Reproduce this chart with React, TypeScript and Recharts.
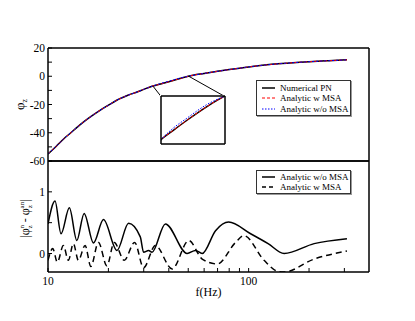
import React from 'react';
import { LineChart, Line, XAxis, YAxis, ReferenceLine, Label } from 'recharts';

// top panel: phase phi_z vs frequency
const topFreq = [10, 11, 12, 13, 14, 15, 16, 18, 20, 22, 25, 28, 30, 33, 36, 40, 45, 50, 60, 70, 80, 90, 100, 120, 140, 160, 180, 200, 250, 309];
const phiNumerical = [-55, -49.5, -44.2, -40, -36, -32.5, -29.5, -24.5, -20.5, -17, -13.5, -11, -9.3, -7.1, -5.7, -3.9, -1.8, 0, 2, 3.5, 4.7, 5.7, 6.6, 7.9, 8.8, 9.4, 9.9, 10.3, 11, 11.6];
const phiMsa = [-55, -49.5, -44.2, -40, -36, -32.5, -29.5, -24.5, -20.5, -17, -13.5, -11, -9.3, -7.1, -5.7, -3.9, -1.8, 0, 2, 3.5, 4.7, 5.7, 6.6, 7.9, 8.8, 9.4, 9.9, 10.3, 11, 11.6];
const phiNoMsa = [-55, -49.5, -44.2, -40, -36, -32.5, -29.5, -24.5, -20.5, -17, -13.5, -11, -9.3, -7.1, -5.35, -3.55, -1.45, 0, 2, 3.5, 4.7, 5.7, 6.6, 7.9, 8.8, 9.4, 9.9, 10.3, 11, 11.6];

// bottom panel: |phi_n - phi_an|
const noMsaFreq = [10, 10.84, 11.61, 12.78, 13.92, 15.14, 16.85, 18.9, 22.06, 25.21, 28.84, 29.96, 31.73, 33.0, 38.46, 49.37, 54.33, 58.68, 68.39, 79.5, 102.3, 125, 150.2, 212.1, 309];
const noMsaDiff = [0.48, 0.85, 0.32, 0.74, 0.21, 0.65, 0.17, 0.55, 0.05, 0.49, 0.27, 0.02, 0.05, 0.02, 0.48, 0.0, 0.05, 0.0, 0.37, 0.51, 0.32, 0.16, 0.0, 0.16, 0.24];
const msaFreq = [10, 10.56, 11.13, 11.93, 12.63, 13.38, 14.17, 15.31, 16.35, 17.84, 19.66, 21.38, 23.99, 27.02, 29.96, 34.28, 41.56, 50.29, 58.68, 69.74, 86.1, 94.74, 119.3, 140, 150, 212.1, 309];
const msaDiff = [-0.11, 0.08, -0.14, 0.13, -0.11, 0.16, -0.11, 0.13, -0.21, 0.18, -0.2, 0.18, -0.11, 0.18, -0.23, 0.13, -0.25, 0.21, -0.09, -0.17, 0.18, 0.29, -0.11, -0.29, -0.3, -0.09, 0.04];

const freqTicks = [10, 20, 30, 40, 50, 60, 70, 80, 90, 100, 200, 300];
const freqLabels = [10, 100];
const phiTicks = [-60, -50, -40, -30, -20, -10, 0, 10, 20];
const phiLabels = [-60, -40, -20, 0, 20];
const diffTicks = [0, 0.5, 1, 1.5];
const diffLabels = [0, 1];
const insetTicks = [45];
const topLegend = ['Numerical PN', 'Analytic w MSA', 'Analytic w/o MSA'];
const bottomLegend = ['Analytic w/o MSA', 'Analytic w MSA'];

const FONT = '"Liberation Serif", "Times New Roman", serif';
const axisStyle = { stroke: '#000', strokeWidth: 1.5 };
const tickStyle = { stroke: '#000', strokeWidth: 1 };
const tickText = { fill: '#000', fontSize: 11.5, fontFamily: FONT };

const topData = topFreq.map((f, i) => ({ f, pn: phiNumerical[i], msa: phiMsa[i], nomsa: phiNoMsa[i] }));
const noMsaData = noMsaFreq.map((f, i) => ({ f, v: noMsaDiff[i] }));
const msaData = msaFreq.map((f, i) => ({ f, v: msaDiff[i] }));

const PhiTitle = ({ viewBox }: any) => {
  const cx = viewBox.x + 24;
  const cy = viewBox.y + viewBox.height / 2;
  return (
    <text x={cx} y={cy} transform={`rotate(-90 ${cx} ${cy})`} textAnchor="middle" fontFamily={FONT} fontSize={13} fill="#000">
      φ<tspan dy={3} fontSize={8}>z</tspan>
    </text>
  );
};

const DiffTitle = ({ viewBox }: any) => {
  const cx = viewBox.x + 29;
  const cy = viewBox.y + viewBox.height / 2 + 2;
  return (
    <text x={cx} y={cy} transform={`rotate(-90 ${cx} ${cy})`} textAnchor="middle" fontFamily={FONT} fontSize={12} fill="#000">
      |φ<tspan dy={-5} fontSize={7}>n</tspan>
      <tspan dx={-3.5} dy={8} fontSize={7}>z</tspan>
      <tspan dy={-3} fontSize={12}> - φ</tspan>
      <tspan dy={-5} fontSize={7}>an</tspan>
      <tspan dx={-6.5} dy={8} fontSize={7}>z</tspan>
      <tspan dx={3.5} dy={-3} fontSize={12}>|</tspan>
    </text>
  );
};

const FreqTitle = ({ viewBox }: any) => (
  <text x={viewBox.x + viewBox.width / 2} y={viewBox.y + 24} textAnchor="middle" fontFamily={FONT} fontSize={12} fill="#000">
    f(Hz)
  </text>
);

function LegendBox({ left, top, height, labels, samples, pad }: any) {
  return (
    <div style={{ position: 'absolute', left, top, width: 95, height, border: '1px solid #333', boxShadow: '1px 1px 0 #999', background: '#fff', boxSizing: 'border-box', fontFamily: FONT, fontSize: 9, color: '#000' }}>
      {labels.map((name: string, i: number) => (
        <div key={name} style={{ position: 'absolute', left: 0, top: pad + i * 10.4, height: 10.4, width: '100%' }}>
          <svg width={13} height={10} style={{ position: 'absolute', left: 5, top: 0 }}>
            <line x1={0} x2={13} y1={5} y2={5} {...samples[i]} />
          </svg>
          <span style={{ position: 'absolute', left: 23, top: 0, lineHeight: '10px', whiteSpace: 'nowrap' }}>{name}</span>
        </div>
      ))}
    </div>
  );
}

export default function App() {
  const fmt = (labels: number[]) => (v: number) => (labels.includes(v) ? String(v) : '');
  return (
    <div style={{ position: 'absolute', left: 0, top: 0, width: 415, height: 321, background: '#fff' }}>
      <div style={{ position: 'absolute', left: 0, top: 0 }}>
        <LineChart width={415} height={175} data={topData} margin={{ top: 47, right: 45, bottom: 0, left: 0 }}>
          <XAxis dataKey="f" type="number" scale="log" domain={[10, 398]} allowDataOverflow ticks={freqTicks} interval={0} tick={false} tickSize={-4} height={14} axisLine={axisStyle} tickLine={tickStyle} />
          <XAxis xAxisId="top" orientation="top" dataKey="f" type="number" scale="log" domain={[10, 398]} allowDataOverflow ticks={freqTicks} interval={0} tick={false} tickSize={-4} height={1} axisLine={axisStyle} tickLine={tickStyle} />
          <YAxis type="number" domain={[-60, 20]} ticks={phiTicks} interval={0} width={48} tickSize={-4} tickMargin={7} tickFormatter={fmt(phiLabels)} tick={tickText} axisLine={axisStyle} tickLine={tickStyle}>
            <Label content={PhiTitle} />
          </YAxis>
          <YAxis yAxisId="right" orientation="right" type="number" domain={[-60, 20]} ticks={phiTicks} interval={0} width={1} tick={false} tickSize={-4} axisLine={axisStyle} tickLine={tickStyle} />
          <Line type="monotone" dataKey="pn" stroke="#000" strokeWidth={1.5} dot={false} isAnimationActive={false} />
          <Line type="monotone" dataKey="msa" stroke="#ff0000" strokeWidth={1} strokeDasharray="3 2" dot={false} isAnimationActive={false} />
          <Line type="monotone" dataKey="nomsa" stroke="#0000ff" strokeWidth={1} strokeDasharray="2 2" dot={false} isAnimationActive={false} />
          <ReferenceLine segment={[{ x: 33.4, y: -7.1 }, { x: 36.6, y: -14.3 }]} stroke="#000" strokeWidth={1} />
          <ReferenceLine segment={[{ x: 50.3, y: 0 }, { x: 76, y: -14.3 }]} stroke="#000" strokeWidth={1} />
        </LineChart>
      </div>

      <div style={{ position: 'absolute', left: 160, top: 95, background: '#fff' }}>
        <LineChart width={66} height={50} data={topData} margin={{ top: 0, right: 0, bottom: 0, left: 0 }}>
          <XAxis dataKey="f" type="number" domain={[33, 50]} allowDataOverflow ticks={insetTicks} interval={0} tick={false} tickSize={-3} height={1} axisLine={axisStyle} tickLine={tickStyle} />
          <XAxis xAxisId="top" orientation="top" dataKey="f" type="number" domain={[33, 50]} allowDataOverflow ticks={insetTicks} interval={0} tick={false} tickSize={-3} height={1} axisLine={axisStyle} tickLine={tickStyle} />
          <YAxis type="number" domain={[-7.8, 0]} allowDataOverflow tick={false} tickLine={false} width={1} axisLine={axisStyle} />
          <YAxis yAxisId="right" orientation="right" type="number" domain={[-7.8, 0]} tick={false} tickLine={false} width={1} axisLine={axisStyle} />
          <Line type="monotone" dataKey="pn" stroke="#000" strokeWidth={1.5} dot={false} isAnimationActive={false} />
          <Line type="monotone" dataKey="msa" stroke="#ff0000" strokeWidth={1} strokeDasharray="3 2" dot={false} isAnimationActive={false} />
          <Line type="monotone" dataKey="nomsa" stroke="#0000ff" strokeWidth={1} strokeDasharray="1.5 1.5" dot={false} isAnimationActive={false} />
        </LineChart>
      </div>

      <div style={{ position: 'absolute', left: 0, top: 160 }}>
        <LineChart width={415} height={140} margin={{ top: 0, right: 45, bottom: 0, left: 0 }}>
          <XAxis dataKey="f" type="number" scale="log" domain={[10, 398]} allowDataOverflow ticks={freqTicks} interval={0} tickFormatter={fmt(freqLabels)} tick={tickText} tickSize={-4} tickMargin={9} height={28} axisLine={axisStyle} tickLine={tickStyle}>
            <Label content={FreqTitle} />
          </XAxis>
          <XAxis xAxisId="top" orientation="top" dataKey="f" type="number" scale="log" domain={[10, 398]} allowDataOverflow ticks={freqTicks} interval={0} tick={false} tickSize={-4} height={1} axisLine={axisStyle} tickLine={tickStyle} />
          <YAxis type="number" domain={[-0.3, 1.5]} allowDataOverflow ticks={diffTicks} interval={0} width={48} tickSize={-4} tickMargin={7} tickFormatter={fmt(diffLabels)} tick={tickText} axisLine={axisStyle} tickLine={tickStyle}>
            <Label content={DiffTitle} />
          </YAxis>
          <YAxis yAxisId="right" orientation="right" type="number" domain={[-0.3, 1.5]} ticks={diffTicks} interval={0} width={1} tick={false} tickSize={-4} axisLine={axisStyle} tickLine={tickStyle} />
          <Line data={noMsaData} type="monotone" dataKey="v" stroke="#000" strokeWidth={1.5} dot={false} isAnimationActive={false} />
          <Line data={msaData} type="monotone" dataKey="v" stroke="#000" strokeWidth={1.5} strokeDasharray="6 4" dot={false} isAnimationActive={false} />
        </LineChart>
      </div>

      <LegendBox left={256} top={80} height={36} labels={topLegend} pad={2}
        samples={[
          { stroke: '#000', strokeWidth: 1.5 },
          { stroke: '#ff0000', strokeWidth: 1, strokeDasharray: '3 2' },
          { stroke: '#0000ff', strokeWidth: 1, strokeDasharray: '1.5 1.5' },
        ]} />
      <LegendBox left={256} top={170} height={24} labels={bottomLegend} pad={0.8}
        samples={[
          { stroke: '#000', strokeWidth: 1.5 },
          { stroke: '#000', strokeWidth: 1.5, strokeDasharray: '4 3' },
        ]} />
    </div>
  );
}
